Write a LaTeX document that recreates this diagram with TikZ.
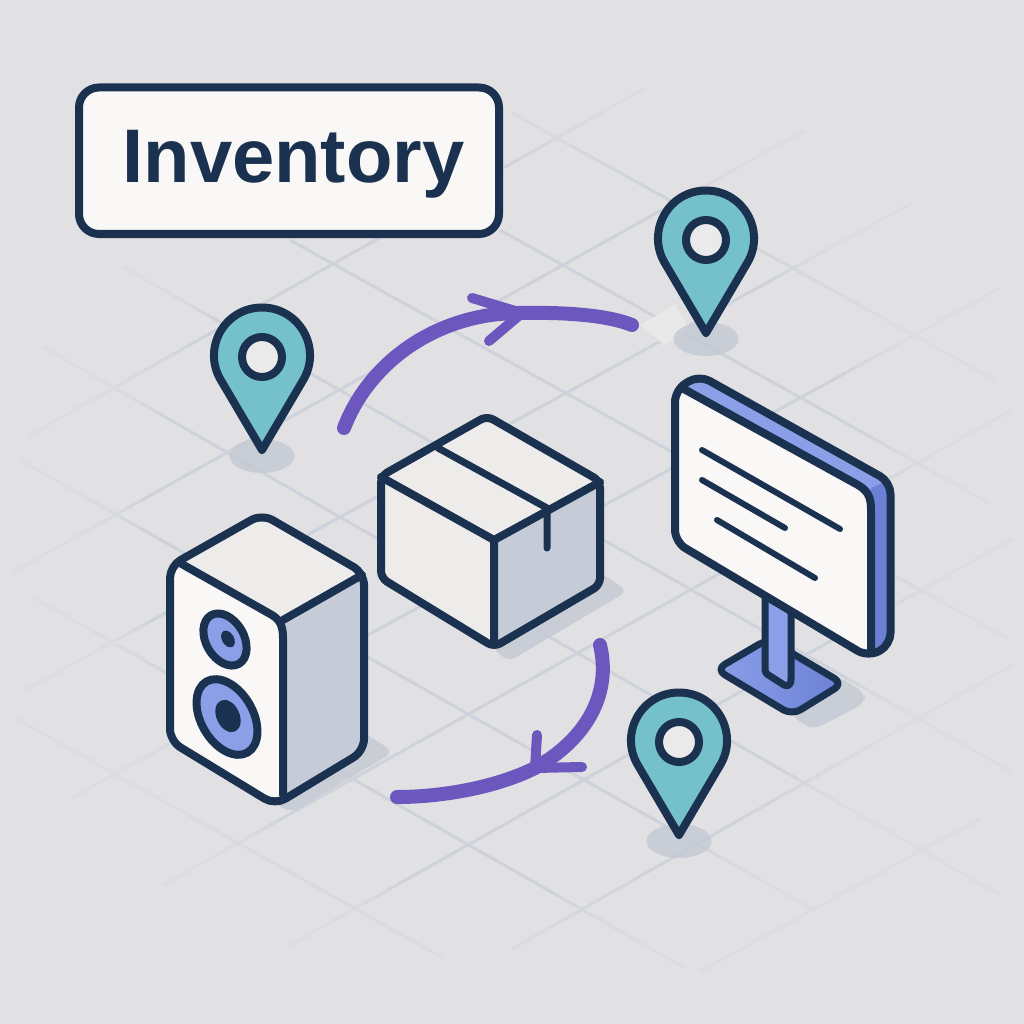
\documentclass[tikz,border=0pt]{standalone}
\usepackage{fontspec}
\setmainfont{Liberation Sans}
\usetikzlibrary{positioning, calc}
\definecolor{floorbg}{HTML}{E1E1E3}
\definecolor{gridcol}{HTML}{CED2DB}
\definecolor{navy}{HTML}{1B3150}
\definecolor{paper}{HTML}{FAF8F7}
\definecolor{topface}{HTML}{EDECEB}
\definecolor{sideface}{HTML}{C6CBD8}
\definecolor{teal}{HTML}{74C1CC}
\definecolor{blue1}{HTML}{8A9FE8}
\definecolor{blue2}{HTML}{6C80D6}
\definecolor{flowcol}{HTML}{6B57BE}
\definecolor{shadowcol}{HTML}{C3C8D3}
\tikzset{
  gridline/.style = {draw=gridcol, line width=3pt},
  outline/.style = {draw=navy, line width=8pt, line join=round, line cap=round},
  inkline/.style = {draw=navy, line width=6pt, line cap=round},
  shadowblob/.style = {fill=shadowcol, opacity=0.8, rounded corners=9pt},
  flow/.style = {draw=flowcol, line width=14pt, line cap=round},
  barb/.style = {draw=flowcol, line width=10pt, line cap=round},
  titlebox/.style = {outline, fill=paper, rounded corners=20pt, minimum width=420pt, minimum height=146.5pt,
    text=navy, text height=55pt, text depth=10.5pt, inner sep=0pt, outer sep=0pt,
    font=\fontsize{76}{80}\selectfont\bfseries},
  locpin/.pic = {
    \fill[shadowblob] (0,99) ellipse [x radius=32.5pt, y radius=17pt];
    \draw[outline, fill=teal] (0,93) -- (-41.3,22.9) .. controls (-60.2,-9.1) and (-37.2,-49.5) .. (0,-49.5)
      .. controls (37.2,-49.5) and (60.2,-9.1) .. (41.3,22.9) -- cycle;
    \draw[draw=navy, line width=8pt, fill=floorbg!70!white] (0,0) circle [radius=20pt];
  }
}
\begin{document}
\begin{tikzpicture}[x=1pt, y=-1pt]

    \fill[floorbg] (0,0) rectangle (1024,1024);
    \useasboundingbox (0,0) rectangle (1024,1024);

    \foreach \xa/\ya/\xb/\yb in {
      43/347/1000/895, 123/267/1012/772, 290/240/1009/639, 500/230/989/503, 512/113/995/380,
      20/460/812/909, 33/597/685/968, 17/719/443/958,
      30/435/645/88, 13/572/805/130, 27/689/912/203, 73/797/1002/287,
      163/885/1012/410, 290/945/1012/539, 512/949/1012/665, 699/972/979/819}
      \draw[gridline] (\xa,\ya) -- (\xb,\yb);
    \foreach \r in {370,380,...,510}
      \fill[floorbg, opacity=0.2, even odd rule] (0,0) rectangle (1024,1024) (510,530) circle [radius=\r pt];
    \fill[floorbg!75!white] (640,325) -- (675,305) -- (690,330) -- (665,345) -- cycle;

    \node[titlebox] (title) at (289,160.75) {\hspace*{9pt}Inventory};

    \pic (pinwest) at (262,357) {locpin};
    \pic (pinnorth) at (706,240) {locpin};
    \pic (pinsouth) at (679,742) {locpin};

    \fill[shadowblob] (596,570) -- (628,591) -- (508,662) -- (490,645) -- cycle;
    \begin{scope}
      \clip[rounded corners=7pt] (381,476) -- (487,416) -- (600,481) -- (600,585) -- (494,647) -- (381,578) -- cycle;
      \fill[topface] (375,410) rectangle (610,655);
      \fill[sideface] (494,540) -- (605,478) -- (605,655) -- (494,655) -- cycle;
    \end{scope}
    \draw[outline, rounded corners=7pt] (381,476) -- (487,416) -- (600,481) -- (600,585) -- (494,647) -- (381,578) -- cycle;
    \draw[outline] (381,477) -- (494,540) -- (600,482) (494,540) -- (494,642);
    \draw[outline, line width=7pt] (438,448) -- (547,508) -- (547,548);

    \fill[shadowblob] (360,730) -- (394,752) -- (290,813) -- (270,800) -- cycle;
    \begin{scope}
      \clip[rounded corners=12pt] (170,566) -- (262,514) -- (364,573) -- (364,751) -- (275,805) -- (170,741) -- cycle;
      \fill[paper] (165,510) rectangle (370,810);
      \fill[topface] (170,560) -- (262,510) -- (368,572) -- (283,621) -- cycle;
      \fill[sideface] (283,621) -- (368,572) -- (368,810) -- (283,810) -- cycle;
    \end{scope}
    \draw[outline, rounded corners=12pt] (170,566) -- (262,514) -- (364,573) -- (364,751) -- (275,805) -- (170,741) -- cycle;
    \draw[outline] (180,563) -- (272,615) .. controls (280,620) and (283,626) .. (283,638) -- (283,795);
    \draw[outline] (283,620) -- (362,575);
    \draw[outline, fill=blue1] (225,639.5) ellipse [x radius=19pt, y radius=28pt, rotate=30];
    \fill[navy] (228,639) ellipse [x radius=6pt, y radius=9pt, rotate=30];
    \draw[outline, fill=blue1] (227,717) ellipse [x radius=26pt, y radius=41pt, rotate=30];
    \fill[navy] (228,716) ellipse [x radius=11.5pt, y radius=17pt, rotate=25];

    \fill[shadowblob] (838,676) -- (865,693) -- (865,703) -- (813,730) -- (790,715) -- cycle;
    \draw[outline, line width=7pt, left color=blue1, right color=blue2, rounded corners=10pt] (716,669.5) -- (768,639) -- (843,683.5) -- (792,715) -- cycle;
    \draw[outline, line width=7pt, fill=blue1] (765,590) -- (765,668) .. controls (765,672) and (766,674) .. (770,676)
      -- (784,685) .. controls (789,687) and (791,684) .. (791,679) -- (791,600) -- cycle;

    \begin{scope}
      \clip[rounded corners=12pt] (675,390) -- (699,375) -- (890.5,482) -- (890.5,645) -- (868,657) -- (675,542) -- cycle;
      \fill[blue1] (670,370) rectangle (895,660);
      \fill[blue2] (871,488) -- (895,478) -- (895,660) -- (871,660) -- cycle;
      \fill[paper] (670,385) -- (858,485) -- (871,500) -- (871,660) -- (670,660) -- cycle;
    \end{scope}
    \draw[outline, rounded corners=12pt] (675,390) -- (699,375) -- (890.5,482) -- (890.5,645) -- (868,657) -- (675,542) -- cycle;
    \draw[outline] (682,388) -- (858,485) .. controls (868,491) and (871,497) .. (871,510) -- (871,652);
    \draw[inkline] (702,450) -- (840,529);
    \draw[inkline] (702,480) -- (785,528);
    \draw[inkline] (717,520) -- (815,578);

    \coordinate (flowa-start) at (344,428);
    \coordinate (flowa-head) at (522,313);
    \coordinate (flowa-end) at (632,325);
    \coordinate (flowb-start) at (600,645);
    \coordinate (flowb-head) at (535,768);
    \coordinate (flowb-end) at (397,797);

    \draw[flow] (flowa-start) .. controls (370,360) and (440,312) .. (flowa-head)
      .. controls (570,312) and (610,316) .. (flowa-end);
    \draw[barb] (472,298) -- (flowa-head) -- (489,341);

    \draw[flow] (flowb-start) .. controls (612,695) and (585,740) .. (flowb-head)
      .. controls (495,788) and (440,797) .. (flowb-end);
    \draw[barb] (537,735) -- (flowb-head) -- (582,767);

\end{tikzpicture}
\end{document}
